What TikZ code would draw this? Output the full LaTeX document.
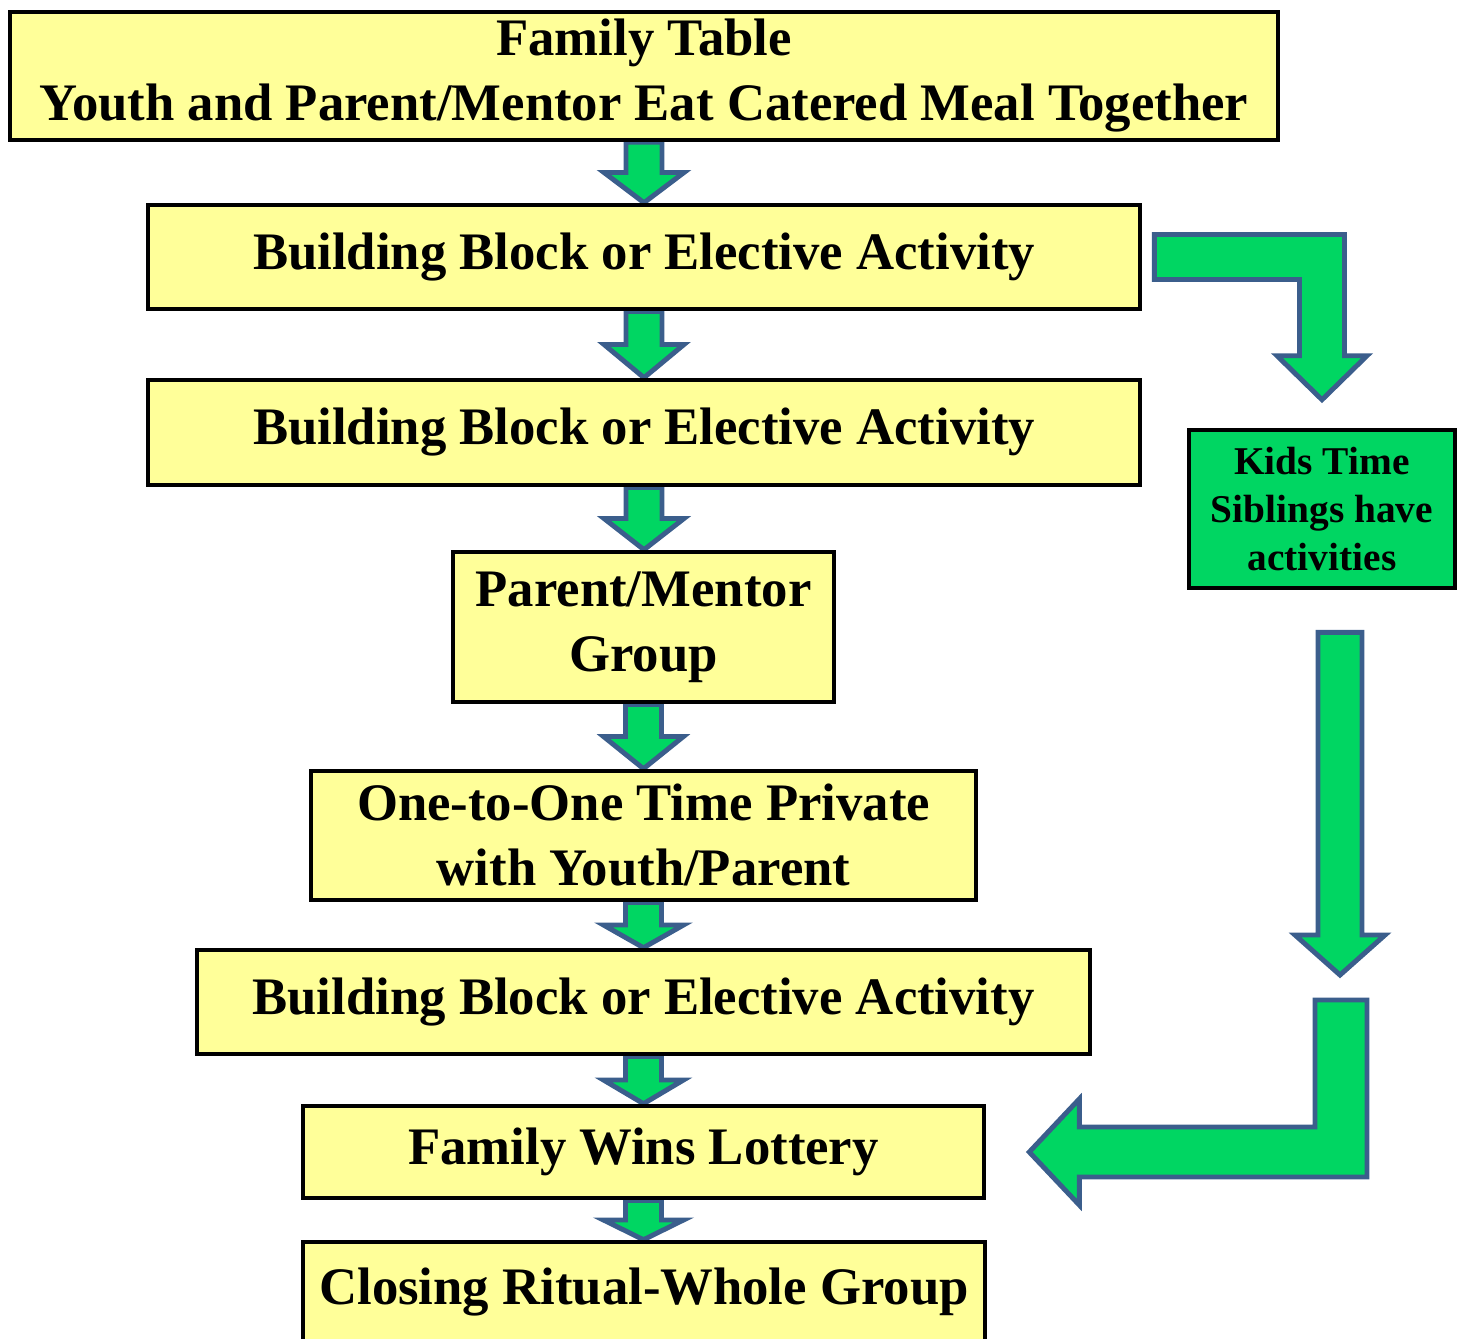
\documentclass[tikz,border=0pt]{standalone}
\usepackage{fontspec}
\setmainfont{Liberation Serif}
\usetikzlibrary{calc,backgrounds,positioning}
\definecolor{stageyellow}{RGB}{255,255,153}
\definecolor{kidsgreen}{RGB}{0,214,98}
\definecolor{arrowedge}{RGB}{59,94,140}
\tikzset{
  stagebox/.style={draw=black, fill=stageyellow, line width=1.3pt, align=center, inner sep=0pt,
    font=\bfseries\fontsize{15}{18.5}\selectfont},
  kidsbox/.style={draw=black, fill=kidsgreen, line width=1.3pt, align=center, inner sep=0pt,
    font=\bfseries\fontsize{11.2}{13.7}\selectfont, minimum width=2.66cm, minimum height=1.58cm},
  blockarrow/.style={draw=arrowedge, fill=kidsgreen, line width=1.4pt, line join=miter}
}
% block arrow from one stage down to the next
\newcommand{\flowarrow}[2]{%
  \draw[blockarrow] let \p1=(#1.south), \p2=(#2.north), \p3=($(#1.south)!0.5!(#2.north)$) in
    (\x1-0.18cm,\y1) -- (\x1-0.18cm,\y3) -- (\x1-0.40cm,\y3) -- (\x1,\y2)
    -- (\x1+0.40cm,\y3) -- (\x1+0.18cm,\y3) -- (\x1+0.18cm,\y1) -- cycle;}

\begin{document}
\begin{tikzpicture}
\useasboundingbox (0,0) rectangle (14.60,-13.39);
% Stages
\node[stagebox, minimum width=12.68cm, minimum height=1.28cm] (table) at (6.44,-0.76) {Family Table\\Youth and Parent/Mentor Eat Catered Meal Together};
\node[stagebox, minimum width=9.92cm, minimum height=1.04cm] (block1) at (6.44,-2.57) {Building Block or Elective Activity};
\node[stagebox, minimum width=9.92cm, minimum height=1.05cm] (block2) at (6.44,-4.325) {Building Block or Elective Activity};
\node[stagebox, minimum width=3.81cm, minimum height=1.50cm] (mentor) at (6.435,-6.27) {Parent/Mentor\\Group};
\node[stagebox, minimum width=6.65cm, minimum height=1.29cm] (onetoone) at (6.435,-8.355) {One-to-One Time Private\\with Youth/Parent};
\node[stagebox, minimum width=8.93cm, minimum height=1.04cm] (block3) at (6.435,-10.02) {Building Block or Elective Activity};
\node[stagebox, minimum width=6.81cm, minimum height=0.92cm] (lottery) at (6.435,-11.52) {Family Wins Lottery};
\node[stagebox, minimum width=6.82cm, minimum height=1.00cm] (closing) at (6.44,-12.92) {Closing Ritual-Whole Group};
% Kids time
\node[kidsbox] (kids) at (13.22,-5.09) {Kids Time\\Siblings have\\activities};
\coordinate (dropstart) at ($(kids.south)+(0.18,-0.42)$);
\coordinate (dropend) at (13.40,-9.75);
\coordinate (returnstart) at (13.41,-10.00);
% Arrows
\begin{pgfonlayer}{background}
\flowarrow{table}{block1}
\flowarrow{block1}{block2}
\flowarrow{block2}{mentor}
\flowarrow{mentor}{onetoone}
\flowarrow{onetoone}{block3}
\flowarrow{block3}{lottery}
\flowarrow{lottery}{closing}
\draw[blockarrow] let \p1=($(block1.east)+(0.12,0)$), \p2=($(kids.north)+(0,0.28)$) in
  (\x1,\y1+0.225cm) -- (\x2+0.225cm,\y1+0.225cm) -- (\x2+0.225cm,\y2+0.44cm) -- (\x2+0.45cm,\y2+0.44cm)
  -- (\x2,\y2) -- (\x2-0.45cm,\y2+0.44cm) -- (\x2-0.225cm,\y2+0.44cm) -- (\x2-0.225cm,\y1-0.225cm)
  -- (\x1,\y1-0.225cm) -- cycle;
\draw[blockarrow] let \p1=(dropstart), \p2=(dropend) in
  (\x1-0.22cm,\y1) -- (\x1-0.22cm,\y2+0.40cm) -- (\x1-0.45cm,\y2+0.40cm) -- (\x1,\y2)
  -- (\x1+0.45cm,\y2+0.40cm) -- (\x1+0.22cm,\y2+0.40cm) -- (\x1+0.22cm,\y1) -- cycle;
\draw[blockarrow] let \p1=(returnstart), \p2=($(lottery.east)+(0.43,0)$) in
  (\x1-0.26cm,\y1) -- (\x1+0.26cm,\y1) -- (\x1+0.26cm,\y2-0.25cm) -- (\x2+0.50cm,\y2-0.25cm)
  -- (\x2+0.50cm,\y2-0.53cm) -- (\x2,\y2) -- (\x2+0.50cm,\y2+0.53cm) -- (\x2+0.50cm,\y2+0.25cm)
  -- (\x1-0.26cm,\y2+0.25cm) -- cycle;
\end{pgfonlayer}
\end{tikzpicture}
\end{document}
